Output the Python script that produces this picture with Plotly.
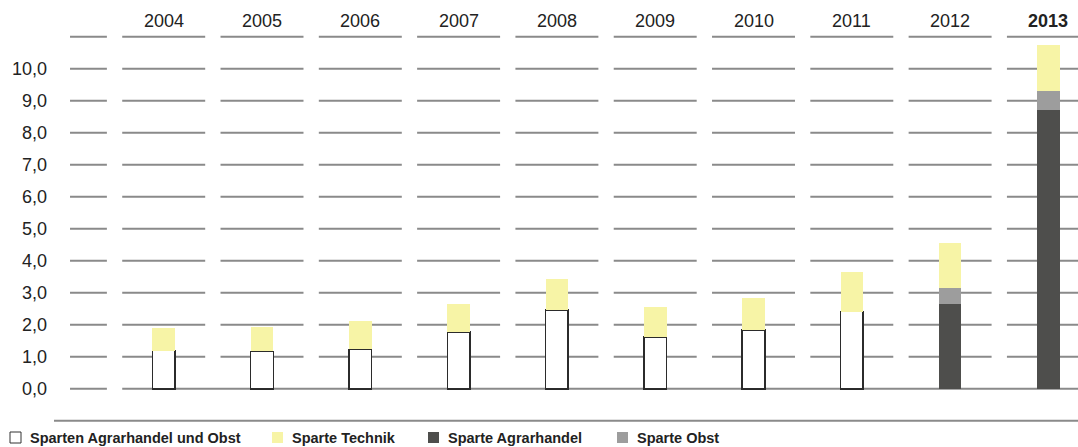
import plotly.graph_objects as go

# Umsatz je Sparte (Mio. EUR)
years = ["2004", "2005", "2006", "2007", "2008", "2009", "2010", "2011", "2012", "2013"]
agrarhandel_und_obst = [1.19, 1.17, 1.23, 1.77, 2.47, 1.62, 1.83, 2.41, None, None]
agrarhandel = [None, None, None, None, None, None, None, None, 2.65, 8.72]
obst = [None, None, None, None, None, None, None, None, 0.50, 0.59]
technik = [0.71, 0.76, 0.89, 0.88, 0.96, 0.93, 1.00, 1.24, 1.40, 1.43]
y_ticks = [0, 1, 2, 3, 4, 5, 6, 7, 8, 9, 10]
grid_levels = [1, 2, 3, 4, 5, 6, 7, 8, 9, 10, 11]

W, H = 1078, 447
ML, MR, MT, MB = 54, 0, 8, 23
X_RANGE = [-1.116, 9.301]
Y_RANGE = [-1.1, 11.9]

FONT = "Liberation Sans, Arial, Helvetica, sans-serif"
YELLOW = "#f7f4a6"
DARK = "#4e4e4c"
GREY = "#9d9d9d"
GRID = "#8a8a8a"
TEXT = "#222222"

xs = list(range(len(years)))
BAR_W = 0.23
SEG = 0.422  # half length of a grid segment per column

fig = go.Figure()
fig.add_trace(go.Bar(x=xs, y=agrarhandel_und_obst, name="Sparten Agrarhandel und Obst",
                     marker=dict(color="white", line=dict(color="#2b2b2b", width=1.5)),
                     width=BAR_W))
fig.add_trace(go.Bar(x=xs, y=agrarhandel, name="Sparte Agrarhandel",
                     marker=dict(color=DARK, line=dict(width=0)), width=BAR_W))
fig.add_trace(go.Bar(x=xs, y=obst, name="Sparte Obst",
                     marker=dict(color=GREY, line=dict(width=0)), width=BAR_W))
fig.add_trace(go.Bar(x=xs, y=technik, name="Sparte Technik",
                     marker=dict(color=YELLOW, line=dict(width=0)), width=BAR_W))

shapes = []
line_style = dict(color=GRID, width=2)
# segmented horizontal rules: a short one beside the scale, one per year column
for lvl in grid_levels:
    shapes.append(dict(type="line", xref="x", yref="y", layer="below",
                       x0=-0.953, x1=-1 + SEG, y0=lvl, y1=lvl, line=line_style))
    for i in xs:
        shapes.append(dict(type="line", xref="x", yref="y", layer="below",
                           x0=i - SEG, x1=i + SEG, y0=lvl, y1=lvl, line=line_style))
# baseline
shapes.append(dict(type="line", xref="x", yref="y", layer="below",
                   x0=-0.953, x1=-1 + SEG, y0=0, y1=0, line=line_style))
shapes.append(dict(type="line", xref="x", yref="y", layer="below",
                   x0=-SEG, x1=len(years), y0=0, y1=0, line=line_style))
# closing rule below the chart
shapes.append(dict(type="line", xref="x", yref="y", layer="below",
                   x0=X_RANGE[0], x1=len(years), y0=-1, y1=-1, line=line_style))

annotations = []
for i, yr in enumerate(years):
    label = f"<b>{yr}</b>" if i == len(years) - 1 else yr
    annotations.append(dict(x=i, y=11.5, xref="x", yref="y", text=label, showarrow=False,
                            xanchor="center", yanchor="middle",
                            font=dict(family=FONT, size=18, color=TEXT)))

# legend row drawn beneath the closing rule
pw = W - ML - MR
ph = H - MT - MB


def px(xp):
    return (xp - ML) / pw


def py(yp):
    return (H - MB - yp) / ph


legend_items = [
    ("Sparten Agrarhandel und Obst", "white", 10),
    ("Sparte Technik", YELLOW, 272),
    ("Sparte Agrarhandel", DARK, 428),
    ("Sparte Obst", GREY, 617),
]
for name, color, x_sq in legend_items:
    outline = dict(color="#333333", width=1) if color == "white" else dict(width=0)
    shapes.append(dict(type="rect", xref="paper", yref="paper",
                       x0=px(x_sq), x1=px(x_sq + 11), y0=py(443), y1=py(432),
                       fillcolor=color, line=outline))
    annotations.append(dict(x=px(x_sq + 18), y=py(437.5), xref="paper", yref="paper",
                            text=f"<b>{name}</b>", showarrow=False,
                            xanchor="left", yanchor="middle",
                            font=dict(family=FONT, size=14.5, color=TEXT)))

fig.update_layout(
    width=W, height=H,
    margin=dict(l=ML, r=MR, t=MT, b=MB, pad=0),
    paper_bgcolor="white", plot_bgcolor="white",
    barmode="stack",
    showlegend=False,
    separators=",.",
    xaxis=dict(range=X_RANGE, visible=False, fixedrange=True),
    yaxis=dict(range=Y_RANGE, tickvals=y_ticks, tickformat=".1f",
               showgrid=False, zeroline=False, showline=False, ticks="",
               ticklabelstandoff=6,
               tickfont=dict(family=FONT, size=18, color=TEXT), fixedrange=True),
    shapes=shapes,
    annotations=annotations,
)

fig.write_html("out.html")
